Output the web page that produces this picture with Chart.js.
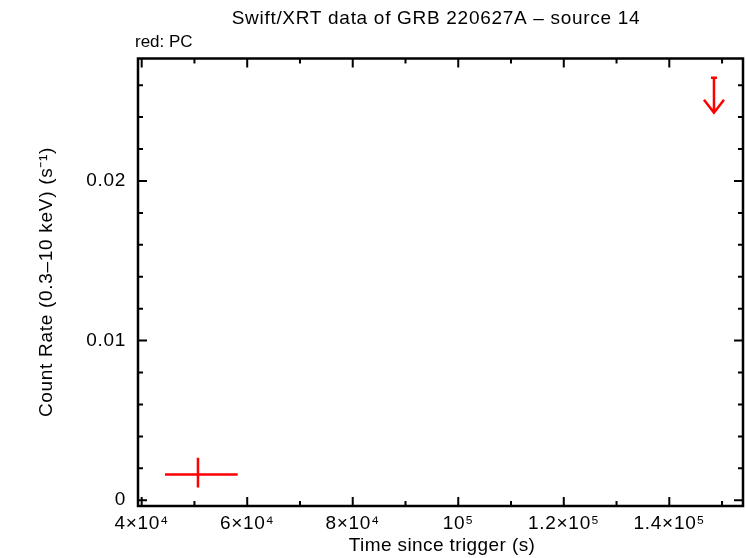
<!DOCTYPE html>
<html>
<head>
<meta charset="utf-8">
<script src="https://cdn.jsdelivr.net/npm/chart.js@4.4.0/dist/chart.umd.min.js"></script>
<style>
  html, body { margin: 0; padding: 0; background: #fff; }
  #wrap { width: 746px; height: 558px; }
</style>
</head>
<body>
<div id="wrap"><canvas id="lc" width="746" height="558"></canvas></div>
<script>
// light curve values
const pcTime   = [50670];
const pcTimeLo = [44420];
const pcTimeHi = [58200];
const pcRate   = [0.00161];
const pcRateLo = [0.00080];
const pcRateHi = [0.00267];

// upper limit (PC)
const ulTime = [148470];
const ulRate = [0.02647];

// axes
const xTicks      = [40000, 60000, 80000, 100000, 120000, 140000];
const xTickLabels = ['4×10⁴', '6×10⁴', '8×10⁴', '10⁵', '1.2×10⁵', '1.4×10⁵'];
const yTicks      = [0, 0.01, 0.02];
const yTickLabels = ['0', '0.01', '0.02'];

const X_MIN = 39300, X_MAX = 153970;
const Y_MIN = -0.00036, Y_MAX = 0.02767;

const FONT = "'Liberation Sans', Arial, Helvetica, sans-serif";
const FONT_SIZE = 19;
const RED  = '#ff0000';

// frame, inward ticks, error bars, arrows and titles
const frameAndMarks = {
    id: 'frameAndMarks',
    beforeDraw: function(chart) {
        // gnuplot-ish text is a bit wider than plain Liberation Sans
        chart.ctx.letterSpacing = '0.7px';
    },
    afterDraw: function(chart) {
        var ctx = chart.ctx, a = chart.chartArea;
        var xs = chart.scales.x, ys = chart.scales.y;
        ctx.save();

        // ticks on all four sides
        ctx.strokeStyle = '#000';
        ctx.lineWidth = 2;
        function xtick(v, len) {
            var px = xs.getPixelForValue(v);
            ctx.beginPath();
            ctx.moveTo(px, a.bottom); ctx.lineTo(px, a.bottom - len);
            ctx.moveTo(px, a.top);    ctx.lineTo(px, a.top + len);
            ctx.stroke();
        }
        function ytick(v, len) {
            var py = ys.getPixelForValue(v);
            ctx.beginPath();
            ctx.moveTo(a.left, py);  ctx.lineTo(a.left + len, py);
            ctx.moveTo(a.right, py); ctx.lineTo(a.right - len, py);
            ctx.stroke();
        }
        for (var xv = 40000; xv <= X_MAX; xv += 10000) xtick(xv, (xv % 20000 === 0) ? 9 : 5);
        for (var i = 0; i * 0.002 <= Y_MAX; i++) ytick(i * 0.002, (i % 5 === 0) ? 9 : 5);

        // frame
        ctx.lineWidth = 2.5;
        ctx.strokeRect(a.left, a.top, a.right - a.left, a.bottom - a.top);

        // PC error crosses
        ctx.strokeStyle = RED;
        ctx.lineWidth = 2.5;
        pcTime.forEach(function(t, k) {
            var px = xs.getPixelForValue(t), py = ys.getPixelForValue(pcRate[k]);
            ctx.beginPath();
            ctx.moveTo(xs.getPixelForValue(pcTimeLo[k]), py);
            ctx.lineTo(xs.getPixelForValue(pcTimeHi[k]), py);
            ctx.moveTo(px, ys.getPixelForValue(pcRateLo[k]));
            ctx.lineTo(px, ys.getPixelForValue(pcRateHi[k]));
            ctx.stroke();
        });

        // upper limit arrows
        ulTime.forEach(function(t, k) {
            var px = xs.getPixelForValue(t), py = ys.getPixelForValue(ulRate[k]);
            ctx.beginPath();
            ctx.moveTo(px - 3, py); ctx.lineTo(px + 3, py);
            ctx.moveTo(px, py);     ctx.lineTo(px, py + 35);
            ctx.moveTo(px - 10, py + 22); ctx.lineTo(px, py + 35); ctx.lineTo(px + 10, py + 22);
            ctx.stroke();
        });

        // titles
        ctx.fillStyle = '#000';
        ctx.font = FONT_SIZE + 'px ' + FONT;
        ctx.letterSpacing = '0.7px';
        ctx.textAlign = 'center';
        ctx.textBaseline = 'alphabetic';
        ctx.fillText('Swift/XRT data of GRB 220627A – source 14', 436, 24);
        ctx.letterSpacing = '0.4px';
        ctx.fillText('Time since trigger (s)', 442, 551);

        ctx.save();
        ctx.translate(52, 282);
        ctx.rotate(-Math.PI / 2);
        ctx.letterSpacing = '0.7px';
        ctx.fillText('Count Rate (0.3–10 keV) (s⁻¹)', 0, 0);
        ctx.restore();

        ctx.font = '17px ' + FONT;
        ctx.letterSpacing = '0px';
        ctx.textAlign = 'left';
        ctx.fillText('red: PC', 135, 47);
        ctx.restore();
    }
};

(function() {
    if (typeof Chart === 'undefined') { console.error('Chart.js not loaded'); return; }
    new Chart(document.getElementById('lc').getContext('2d'), {
        type: 'scatter',
        data: {
            datasets: [
                { label: 'PC', data: pcTime.map(function(t, k) { return { x: t, y: pcRate[k] }; }), pointRadius: 0, showLine: false },
                { label: 'PC upper limit', data: ulTime.map(function(t, k) { return { x: t, y: ulRate[k] }; }), pointRadius: 0, showLine: false }
            ]
        },
        options: {
            responsive: false,
            devicePixelRatio: 1,
            animation: false,
            layout: { padding: { top: 58.5, right: 3, left: 0, bottom: 0 } },
            plugins: { legend: { display: false }, tooltip: { enabled: false }, title: { display: false } },
            scales: {
                x: {
                    type: 'linear', min: X_MIN, max: X_MAX,
                    afterBuildTicks: function(s) { s.ticks = xTicks.map(function(v) { return { value: v }; }); },
                    afterFit: function(s) { s.height = 52; },
                    grid: { display: false, drawTicks: false },
                    border: { display: false },
                    ticks: {
                        autoSkip: false, maxRotation: 0, padding: 6, color: '#000',
                        font: { family: FONT, size: FONT_SIZE },
                        callback: function(v, i) { return xTickLabels[i]; }
                    }
                },
                y: {
                    type: 'linear', min: Y_MIN, max: Y_MAX,
                    afterBuildTicks: function(s) { s.ticks = yTicks.map(function(v) { return { value: v }; }); },
                    afterFit: function(s) { s.width = 138; },
                    grid: { display: false, drawTicks: false },
                    border: { display: false },
                    ticks: {
                        autoSkip: false, padding: 12, color: '#000',
                        font: { family: FONT, size: FONT_SIZE },
                        callback: function(v, i) { return yTickLabels[i]; }
                    }
                }
            }
        },
        plugins: [frameAndMarks]
    });
})();
</script>
</body>
</html>
